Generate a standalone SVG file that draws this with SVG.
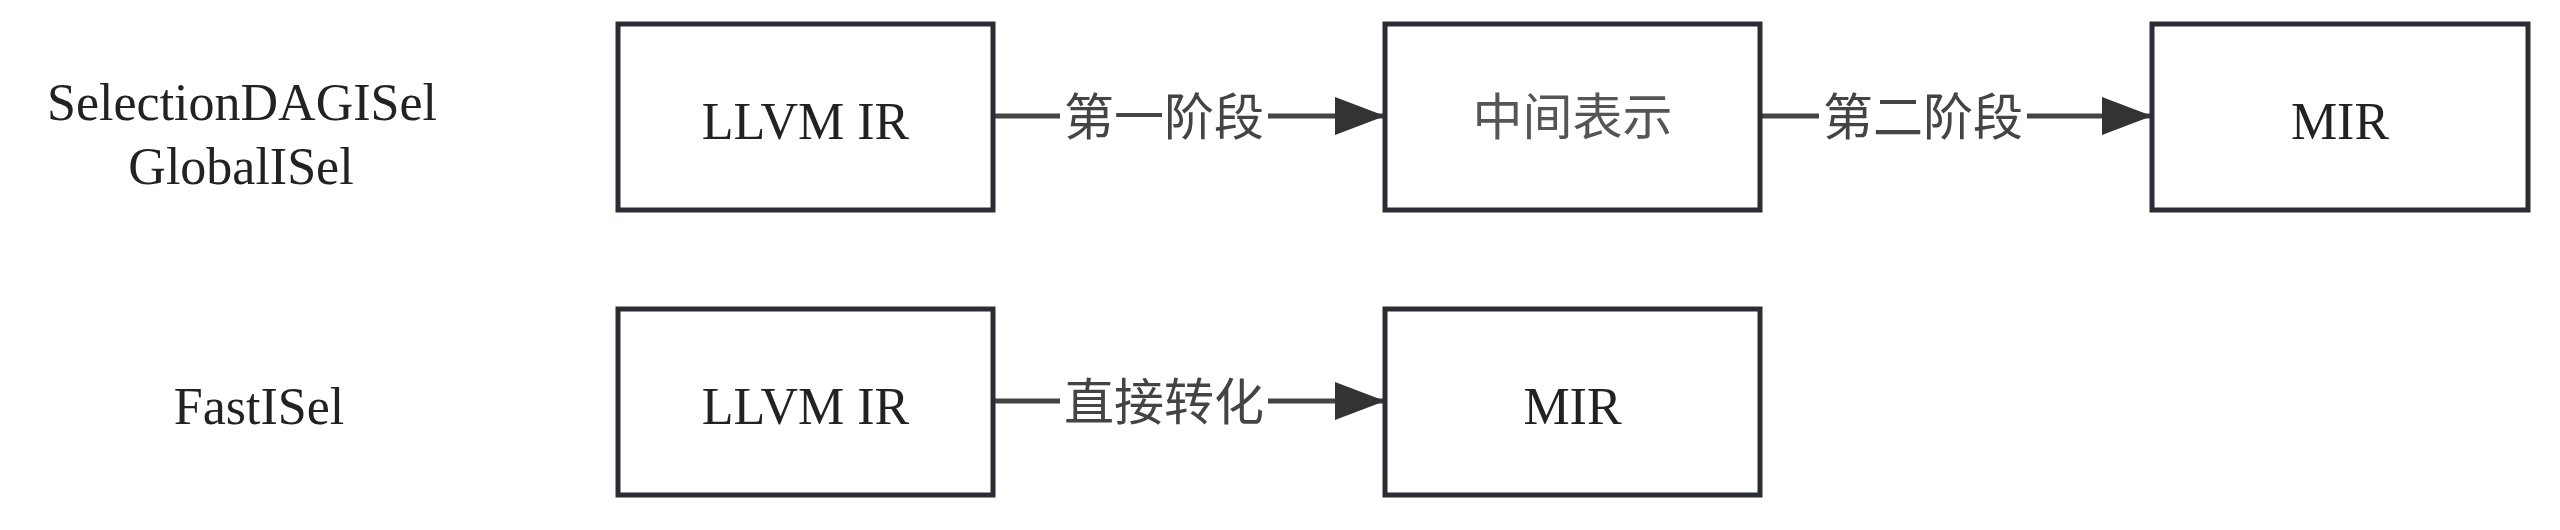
<svg xmlns="http://www.w3.org/2000/svg" width="2560" height="530" viewBox="0 0 2560 530">
<style>
.box{fill:#fff;stroke:#2a2d33;stroke-width:5}
.t{font-family:"Liberation Serif","Times New Roman",serif;font-size:52px;fill:#222;text-anchor:middle}
.lbl{font-family:"Noto Sans CJK SC","Noto Sans",sans-serif;font-size:50px;fill:#444;text-anchor:middle}
.ln{stroke:#444;stroke-width:5;fill:none}
</style>
<defs>
<marker id="ah" markerUnits="userSpaceOnUse" markerWidth="50" markerHeight="38" refX="50" refY="19" orient="auto">
<path d="M0,0 L50,19 L0,38 Z" fill="#333"/>
</marker>
</defs>
<rect width="2560" height="530" fill="#fff"/>
<g id="row-labels">
<text class="t" x="242" y="120">SelectionDAGISel</text>
<text class="t" x="241" y="184">GlobalISel</text>
<text class="t" x="259" y="424">FastISel</text>
</g>
<g id="connectors">
<line class="ln" x1="993" y1="116" x2="1385" y2="116" marker-end="url(#ah)"/>
<line class="ln" x1="1760" y1="116" x2="2152" y2="116" marker-end="url(#ah)"/>
<line class="ln" x1="993" y1="401" x2="1385" y2="401" marker-end="url(#ah)"/>
<rect x="1060" y="92" width="208" height="50" fill="#fff"/>
<text class="lbl" x="1164" y="135">第一阶段</text>
<rect x="1819" y="92" width="208" height="50" fill="#fff"/>
<text class="lbl" x="1923" y="135">第二阶段</text>
<rect x="1060" y="377" width="208" height="50" fill="#fff"/>
<text class="lbl" x="1164" y="420">直接转化</text>
</g>
<g id="n1">
<rect class="box" x="618" y="24" width="375" height="186"/>
<text class="t" x="805.5" y="139">LLVM IR</text>
</g>
<g id="n2">
<rect class="box" x="1385" y="24" width="375" height="186"/>
<text class="lbl" x="1572.5" y="135" style="fill:#555">中间表示</text>
</g>
<g id="n3">
<rect class="box" x="2152" y="24" width="376" height="186"/>
<text class="t" x="2340" y="139">MIR</text>
</g>
<g id="n4">
<rect class="box" x="618" y="309" width="375" height="186"/>
<text class="t" x="805.5" y="424">LLVM IR</text>
</g>
<g id="n5">
<rect class="box" x="1385" y="309" width="375" height="186"/>
<text class="t" x="1572.5" y="424">MIR</text>
</g>
</svg>
